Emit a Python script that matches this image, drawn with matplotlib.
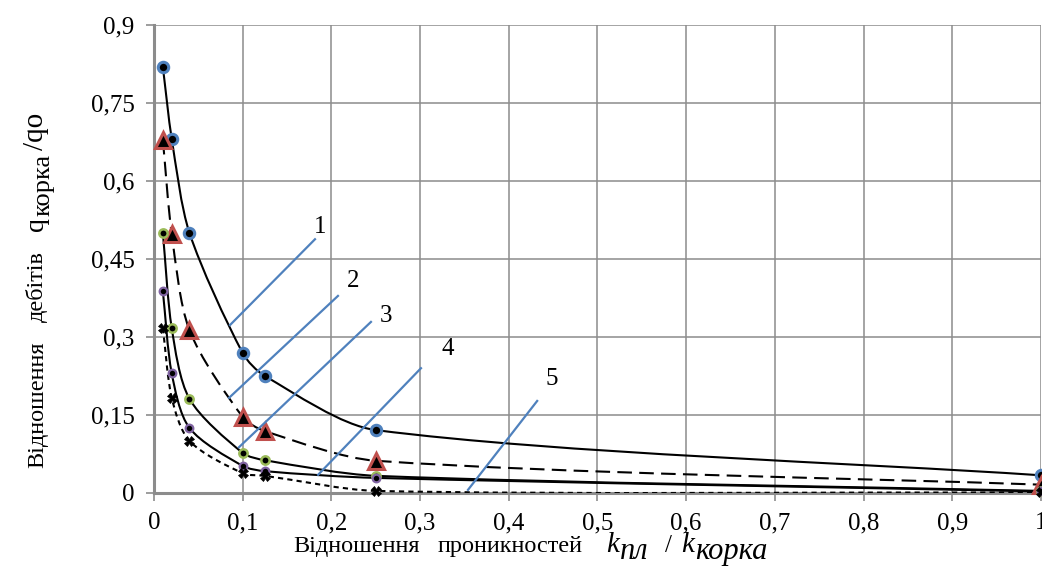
import numpy as np
import matplotlib
matplotlib.use("Agg")
import matplotlib.pyplot as plt
from matplotlib.path import Path
from matplotlib.patches import PathPatch
from matplotlib.ticker import FixedLocator

plt.rcParams["font.family"] = ["Liberation Serif", "DejaVu Serif"]

# Permeability ratio k_пл / k_корка
k_ratio = [0.01, 0.02, 0.04, 0.1, 0.125, 0.25, 1.0]

# Flow-rate ratio q_корка / qo for curves 1..5
q1 = [0.819, 0.681, 0.500, 0.269, 0.225, 0.121, 0.034]
q2 = [0.679, 0.498, 0.313, 0.146, 0.119, 0.062, 0.016]
q3 = [0.500, 0.317, 0.181, 0.077, 0.063, 0.033, 0.004]
q4 = [0.388, 0.230, 0.125, 0.052, 0.042, 0.029, 0.003]
q5 = [0.317, 0.183, 0.100, 0.038, 0.033, 0.004, 0.001]

x_ticks = [0, 0.1, 0.2, 0.3, 0.4, 0.5, 0.6, 0.7, 0.8, 0.9, 1]
x_tick_labels = ["0", "0,1", "0,2", "0,3", "0,4", "0,5", "0,6", "0,7", "0,8", "0,9", "1"]
y_ticks = [0, 0.15, 0.3, 0.45, 0.6, 0.75, 0.9]
y_tick_labels = ["0", "0,15", "0,3", "0,45", "0,6", "0,75", "0,9"]

# Leader lines for curve numbers: (start, end, label position)
leader_labels = ["1", "2", "3", "4", "5"]
leader_start = [(0.0857, 0.323), (0.0846, 0.183), (0.0958, 0.088), (0.185, 0.035), (0.354, 0.006)]
leader_end = [(0.1815, 0.488), (0.2074, 0.379), (0.2446, 0.329), (0.301, 0.240), (0.432, 0.177)]
label_pos = [(0.187, 0.512), (0.224, 0.408), (0.261, 0.340), (0.331, 0.277), (0.448, 0.219)]

BLUE = "#4F81BD"
RED = "#C0504D"
GREEN = "#9BBB59"
PURPLE = "#8064A2"
GRID = "#8c8c8c"

W, H = 1042, 583
fig = plt.figure(figsize=(W / 100, H / 100), dpi=100)
ax = fig.add_axes([0.1478, 0.1544, 0.8512, 0.8027])
ax.set_xlim(0, 1)
ax.set_ylim(0, 0.9)

SX, SY = 887.0, 520.0  # approximate pixels per data unit


def smooth_path(xs, ys, tension=0.28):
    """Bezier path through the points with tangents along neighbouring chords."""
    p = np.column_stack([np.asarray(xs) * SX, np.asarray(ys) * SY])
    n = len(p)
    tang = np.zeros_like(p)
    for i in range(n):
        a = p[max(i - 1, 0)]
        b = p[min(i + 1, n - 1)]
        d = b - a
        tang[i] = d / np.hypot(*d)
    verts = [p[0]]
    codes = [Path.MOVETO]
    for i in range(n - 1):
        L = np.hypot(*(p[i + 1] - p[i]))
        c1 = p[i] + tang[i] * L * tension
        c2 = p[i + 1] - tang[i + 1] * L * tension
        verts += [c1, c2, p[i + 1]]
        codes += [Path.CURVE4] * 3
    verts = np.array(verts)
    verts[:, 0] /= SX
    verts[:, 1] /= SY
    return Path(verts, codes)


series = [
    (q1, None, dict(marker="o", ms=7.5, mfc="black", mec=BLUE, mew=2.2)),
    (q2, (0, (7, 3.5)), dict(marker="^", ms=12, mfc="black", mec=RED, mew=2.2)),
    (q3, None, dict(marker="o", ms=6, mfc="black", mec=GREEN, mew=1.8)),
    (q4, None, dict(marker="o", ms=5.5, mfc="black", mec=PURPLE, mew=1.6)),
    (q5, (0, (2.5, 2)), dict(marker="X", ms=7, mfc="black", mec="black", mew=0.5)),
]

for ys, dash, mk in series:
    patch = PathPatch(smooth_path(k_ratio, ys), fill=False, edgecolor="black",
                      lw=1.5, linestyle=dash if dash else "-", zorder=3)
    ax.add_patch(patch)
    ax.plot(k_ratio, ys, linestyle="none", zorder=4, clip_on=False, **mk)

for (s, e, lab, lp) in zip(leader_start, leader_end, leader_labels, label_pos):
    ax.plot([s[0], e[0]], [s[1], e[1]], color=BLUE, lw=1.6, zorder=5)
    ax.text(lp[0], lp[1], lab, fontsize=18, ha="center", va="center", zorder=6)

ax.xaxis.set_major_locator(FixedLocator(x_ticks))
ax.yaxis.set_major_locator(FixedLocator(y_ticks))
ax.set_xticklabels(x_tick_labels, fontsize=18)
ax.set_yticklabels(y_tick_labels, fontsize=18)
ax.grid(True, color=GRID, lw=1.1)
ax.set_axisbelow(True)
for side in ("top", "right"):
    ax.spines[side].set_visible(False)
for side in ("left", "bottom"):
    ax.spines[side].set_color(GRID)
    ax.spines[side].set_linewidth(2.2)
ax.tick_params(axis="both", direction="out", length=6, width=1.2, color=GRID,
               pad=8, labelcolor="black")

renderer = fig.canvas.get_renderer()


def chain(pieces, start, base, vertical=False):
    """Lay out text pieces one after another along a baseline (pixels from top-left).

    Each piece is (text, fontsize, style, gap_before_px, baseline_shift_px).
    """
    pos = start
    for s, size, style, gap, shift in pieces:
        pos += gap if not vertical else -gap
        if vertical:
            t = fig.text((base + shift) / W, 1 - pos / H, s, fontsize=size, style=style,
                         rotation=90, rotation_mode="anchor", ha="left", va="baseline")
            ext = t.get_window_extent(renderer)
            pos -= ext.height
        else:
            t = fig.text(pos / W, 1 - (base + shift) / H, s, fontsize=size, style=style,
                         ha="left", va="baseline")
            ext = t.get_window_extent(renderer)
            pos += ext.width


# x-axis title with the k_пл / k_корка formula
chain([
    ("Відношення", 17.5, "normal", 0, 0),
    ("проникностей", 17.5, "normal", 18, 0),
    ("k", 21, "italic", 24, 0),
    ("пл", 22, "italic", 1, 7),
    ("/", 18, "normal", 16, 0),
    ("k", 21, "italic", 9, 0),
    ("корка", 22, "italic", 1, 7),
], start=293, base=552)

# y-axis title, written bottom to top
chain([
    ("Відношення", 17.5, "normal", 0, 0),
    ("дебітів", 17.5, "normal", 20, 0),
    ("q", 20, "normal", 20, 0),
    ("корка", 19, "normal", 1, 6),
    ("/qo", 21, "normal", 3, 0),
], start=468, base=43, vertical=True)

fig.savefig("out.png", dpi=100)
